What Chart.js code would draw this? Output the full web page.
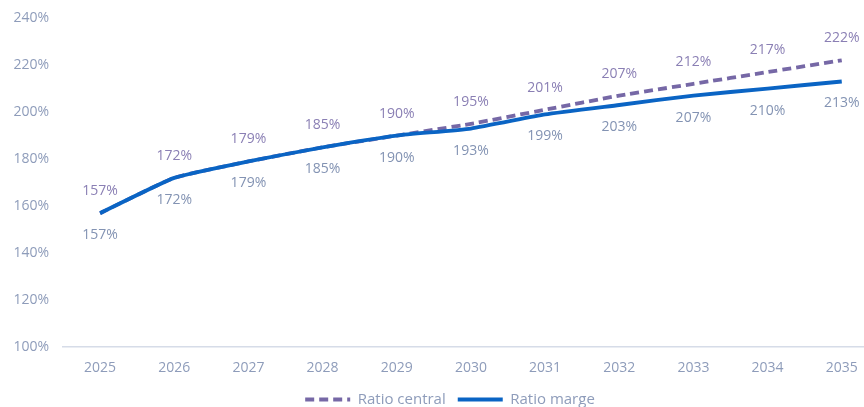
<!DOCTYPE html>
<html>
<head>
<meta charset="utf-8">
<script src="https://cdn.jsdelivr.net/npm/chart.js@4"></script>
<style>
  html, body { margin: 0; padding: 0; background: #fff; }
  #wrap { width: 864px; height: 407px; }
</style>
</head>
<body>
<div id="wrap"><canvas id="ratioChart"></canvas></div>
<script>
// Data
const years = [2025, 2026, 2027, 2028, 2029, 2030, 2031, 2032, 2033, 2034, 2035];
const ratioCentral = [157, 172, 179, 185, 190, 195, 201, 207, 212, 217, 222];
const ratioMarge = [157, 172, 179, 185, 190, 193, 199, 203, 207, 210, 213];
const yTicks = [100, 120, 140, 160, 180, 200, 220, 240];

const FONT = '"Open Sans", "Liberation Sans", sans-serif';
const TICK_COLOR = '#8e9cba';

// value labels above (central) / below (marge)
const valueLabels = {
  id: 'valueLabels',
  afterLayout(chart) {
    // legend sits a little right of the canvas centre
    if (chart.legend) {
      chart.legend.left += 18;
      chart.legend.right += 18;
    }
  },
  afterDatasetsDraw(chart) {
    const ctx = chart.ctx;
    ctx.save();
    ctx.font = '14px ' + FONT;
    ctx.textAlign = 'center';
    ctx.textBaseline = 'middle';
    chart.data.datasets.forEach((ds, i) => {
      const meta = chart.getDatasetMeta(i);
      meta.data.forEach((pt, j) => {
        const dy = ds.labelPos === 'above' ? -22 : 22;
        ctx.fillStyle = ds.labelColor;
        ctx.fillText(ds.data[j].y + '%', pt.x, pt.y + dy);
      });
    });
    ctx.restore();
  }
};

const ctx = document.getElementById('ratioChart').getContext('2d');

new Chart(ctx, {
  type: 'line',
  data: {
    datasets: [
      {
        label: 'Ratio marge',
        data: years.map((y, i) => ({ x: y, y: ratioMarge[i] })),
        borderColor: '#0a64c4',
        backgroundColor: '#0a64c4',
        borderWidth: 3.8,
        pointRadius: 0,
        tension: 0.15,
        labelPos: 'below',
        labelColor: '#8393b3',
        order: 1
      },
      {
        label: 'Ratio central',
        data: years.map((y, i) => ({ x: y, y: ratioCentral[i] })),
        borderColor: '#7668a6',
        backgroundColor: '#7668a6',
        borderWidth: 3.8,
        borderDash: [9, 5],
        pointRadius: 0,
        tension: 0.15,
        labelPos: 'above',
        labelColor: '#8a7fb4',
        order: 2
      }
    ]
  },
  options: {
    responsive: true,
    maintainAspectRatio: false,
    animation: false,
    layout: { padding: { top: 18, right: 0, left: 0, bottom: -10 } },
    scales: {
      x: {
        type: 'linear',
        min: 2024.5,
        max: 2035.3,
        afterBuildTicks: (scale) => { scale.ticks = years.map(v => ({ value: v })); },
        grid: { display: false },
        border: { display: true, color: '#d6dce8', width: 1.5 },
        ticks: {
          color: TICK_COLOR,
          font: { family: FONT, size: 14 },
          padding: 4,
          callback: (v) => String(v)
        }
      },
      y: {
        min: 100,
        max: 240,
        afterBuildTicks: (scale) => { scale.ticks = yTicks.map(v => ({ value: v })); },
        afterFit: (scale) => { scale.width = 63; },
        grid: { display: false },
        border: { display: false },
        ticks: {
          color: TICK_COLOR,
          font: { family: FONT, size: 14 },
          padding: 6,
          callback: (v) => v + '%'
        }
      }
    },
    plugins: {
      legend: {
        position: 'bottom',
        reverse: true,
        labels: {
          usePointStyle: true,
          pointStyle: 'line',
          pointStyleWidth: 45,
          boxHeight: 14,
          color: TICK_COLOR,
          font: { family: FONT, size: 15 },
          padding: 12,
          generateLabels: (chart) => chart.data.datasets.map((ds, i) => ({
            text: ds.label,
            datasetIndex: i,
            strokeStyle: ds.borderColor,
            fillStyle: ds.borderColor,
            lineWidth: 3.8,
            lineDash: ds.borderDash || [],
            pointStyle: 'line',
            fontColor: TICK_COLOR
          }))
        }
      },
      tooltip: { enabled: false }
    }
  },
  plugins: [valueLabels]
});
</script>
</body>
</html>
